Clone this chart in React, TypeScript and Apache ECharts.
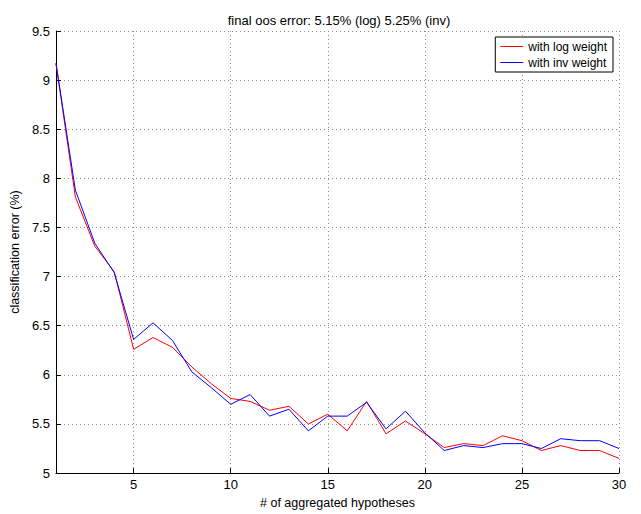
import React, { useEffect, useRef } from "react";
import * as echarts from "echarts";

const hypotheses = [1, 2, 3, 4, 5, 6, 7, 8, 9, 10, 11, 12, 13, 14, 15, 16, 17, 18, 19, 20, 21, 22, 23, 24, 25, 26, 27, 28, 29, 30];
const logWeight = [9.17, 7.81, 7.31, 7.05, 6.26, 6.38, 6.28, 6.08, 5.91, 5.76, 5.73, 5.64, 5.68, 5.50, 5.60, 5.43, 5.73, 5.40, 5.53, 5.40, 5.26, 5.30, 5.28, 5.38, 5.33, 5.23, 5.28, 5.23, 5.23, 5.15];
const invWeight = [9.17, 7.88, 7.34, 7.04, 6.36, 6.53, 6.35, 6.03, 5.87, 5.70, 5.80, 5.58, 5.65, 5.43, 5.58, 5.58, 5.72, 5.45, 5.63, 5.41, 5.23, 5.28, 5.26, 5.30, 5.30, 5.25, 5.35, 5.33, 5.33, 5.25];
const seriesNames = ["with log weight", "with inv weight"];
const titleText = "final oos error: 5.15% (log) 5.25% (inv)";
const xName = "# of aggregated hypotheses";
const yName = "classification error (%)";

const FONT = "Liberation Sans, Arial, Helvetica, sans-serif";

export default function App() {
  const ref = useRef<HTMLDivElement>(null);
  useEffect(() => {
    if (!ref.current) return;
    const chart = echarts.init(ref.current, undefined, { renderer: "svg" });
    const grid = { left: 49, right: 22, top: 31, bottom: 33 };
    const gridLine = { show: true, lineStyle: { color: "#8c8c8c", type: [1, 3], width: 1 } };
    chart.setOption({
      animation: false,
      backgroundColor: "#ffffff",
      textStyle: { fontFamily: FONT },
      title: {
        text: titleText,
        left: 334,
        textAlign: "center",
        top: 9,
        textStyle: { fontFamily: FONT, fontSize: 13, fontWeight: "normal", color: "#000" },
      },
      legend: {
        orient: "vertical",
        right: 28,
        top: 37,
        padding: [3, 6, 3, 5],
        itemGap: 3,
        itemWidth: 23,
        itemHeight: 1,
        icon: "rect",
        borderColor: "#000",
        borderWidth: 1,
        backgroundColor: "#fff",
        textStyle: { fontFamily: FONT, fontSize: 12, color: "#000", lineHeight: 13 },
        data: seriesNames,
      },
      grid,
      xAxis: {
        type: "value",
        min: 1,
        max: 30,
        splitNumber: 5,
        name: xName,
        nameLocation: "middle",
        nameGap: 19,
        nameTextStyle: { fontFamily: FONT, fontSize: 12.5, color: "#000" },
        axisLine: { show: true, onZero: false, lineStyle: { color: "#000", width: 1 } },
        axisTick: { show: true, inside: true, length: 5, lineStyle: { color: "#000" } },
        axisLabel: { showMinLabel: false, margin: 5, fontFamily: FONT, fontSize: 13, color: "#000" },
        splitLine: gridLine,
      },
      yAxis: {
        type: "value",
        min: 5,
        max: 9.5,
        interval: 0.5,
        name: yName,
        nameLocation: "middle",
        nameGap: 23,
        nameTextStyle: { fontFamily: FONT, fontSize: 12.5, color: "#000" },
        axisLine: { show: true, onZero: false, lineStyle: { color: "#000", width: 1 } },
        axisTick: { show: true, inside: true, length: 5, lineStyle: { color: "#000" } },
        axisLabel: { margin: 6, fontFamily: FONT, fontSize: 13, color: "#000" },
        splitLine: gridLine,
      },
      series: [
        {
          name: seriesNames[0],
          type: "line",
          symbol: "none",
          data: hypotheses.map((h, i) => [h, logWeight[i]]),
          lineStyle: { color: "#ff0000", width: 1 },
          itemStyle: { color: "#ff0000" },
          z: 3,
        },
        {
          name: seriesNames[1],
          type: "line",
          symbol: "none",
          data: hypotheses.map((h, i) => [h, invWeight[i]]),
          lineStyle: { color: "#0000ff", width: 1 },
          itemStyle: { color: "#0000ff" },
          z: 4,
        },
      ],
    });
    return () => chart.dispose();
  }, []);
  return <div ref={ref} style={{ width: 641, height: 514, position: "absolute", left: 0, top: 0 }} />;
}
